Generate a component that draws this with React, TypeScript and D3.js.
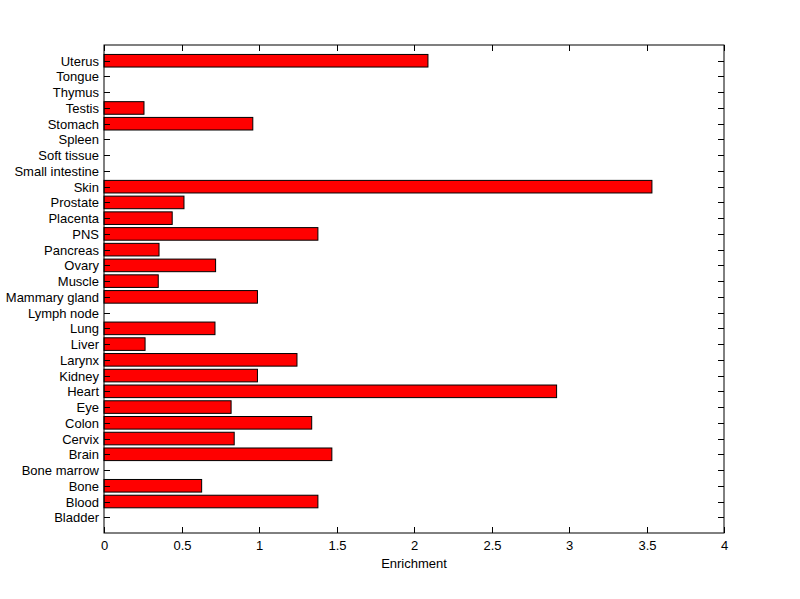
import React from "react";
import * as d3 from "d3";

const categories = [
  "Bladder", "Blood", "Bone", "Bone marrow", "Brain", "Cervix", "Colon", "Eye", "Heart", "Kidney",
  "Larynx", "Liver", "Lung", "Lymph node", "Mammary gland", "Muscle", "Ovary", "Pancreas", "PNS", "Placenta",
  "Prostate", "Skin", "Small intestine", "Soft tissue", "Spleen", "Stomach", "Testis", "Thymus", "Tongue", "Uterus",
];
const values = [
  0, 1.38, 0.63, 0, 1.47, 0.84, 1.34, 0.82, 2.92, 0.99,
  1.245, 0.265, 0.716, 0, 0.99, 0.35, 0.72, 0.355, 1.38, 0.44,
  0.516, 3.535, 0, 0, 0, 0.96, 0.258, 0, 0, 2.09,
];
const xTicks = [0, 0.5, 1, 1.5, 2, 2.5, 3, 3.5, 4];
const xLabel = "Enrichment";

const W = 800, H = 599;
const L = 104, R = 724, T = 45, B = 533;
const FONT = "'Liberation Sans', Arial, sans-serif";

export default function App() {
  const x = d3.scaleLinear().domain([0, 4]).range([L, R]);
  const y = d3.scaleLinear().domain([0, categories.length + 1]).range([B, T]);
  const bw = 0.8;
  const tick = 6;
  return (
    <svg width={W} height={H} style={{ position: "absolute", left: 0, top: 0 }} fontFamily={FONT}>
      <rect x={0} y={0} width={W} height={H} fill="#fff" />
      {categories.map((c, i) => {
        const v = values[i];
        if (v <= 0) return null;
        const y0 = y(i + 1 + bw / 2), y1 = y(i + 1 - bw / 2);
        return (
          <rect key={c} x={x(0)} y={y0} width={x(v) - x(0)} height={y1 - y0}
            fill="#ff0000" stroke="#000" strokeWidth={1} />
        );
      })}
      <rect x={L} y={T} width={R - L} height={B - T} fill="none" stroke="#000" strokeWidth={1} />
      {categories.map((c, i) => {
        const yy = Math.round(y(i + 1)) + 0.5;
        return (
          <g key={"t" + c}>
            <line x1={L} x2={L + tick} y1={yy} y2={yy} stroke="#000" />
            <line x1={R} x2={R - tick} y1={yy} y2={yy} stroke="#000" />
            <text x={L - 5} y={yy - 0.5} textAnchor="end" dominantBaseline="central" fontSize={13}>{c}</text>
          </g>
        );
      })}
      {xTicks.map((t) => {
        const xx = Math.round(x(t)) + 0.5;
        return (
          <g key={"x" + t}>
            <line x1={xx} x2={xx} y1={B} y2={B - tick} stroke="#000" />
            <line x1={xx} x2={xx} y1={T} y2={T + tick} stroke="#000" />
            <text x={xx} y={B + 12} textAnchor="middle" dominantBaseline="central" fontSize={13}>{String(t)}</text>
          </g>
        );
      })}
      <text x={(L + R) / 2} y={B + 30} textAnchor="middle" dominantBaseline="central" fontSize={13}>{xLabel}</text>
    </svg>
  );
}
